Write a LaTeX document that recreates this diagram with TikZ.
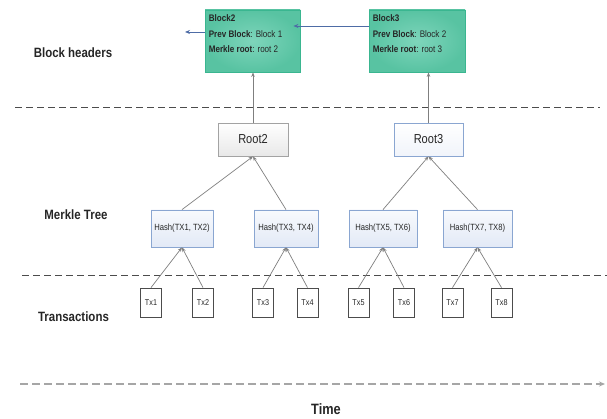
\documentclass[tikz,border=0pt]{standalone}
\usepackage{fontspec}
\setmainfont{Liberation Sans}[FakeStretch=0.85]
\usetikzlibrary{arrows.meta}
\definecolor{blockborder}{HTML}{3AB690}
\definecolor{blockin}{HTML}{7ED5BB}
\definecolor{blockout}{HTML}{58C3A2}
\definecolor{hashborder}{HTML}{8AA6D1}
\definecolor{hashtop}{HTML}{F8FAFD}
\definecolor{hashbot}{HTML}{E2E9F6}
\definecolor{rootgray}{HTML}{A3A3A3}
\definecolor{arrgray}{HTML}{7F7F7F}
\definecolor{linkblue}{HTML}{4E6CA6}
\definecolor{txtdark}{HTML}{262626}
\begin{document}
\begin{tikzpicture}[x=1pt,y=-1pt,
  blockbox/.style={draw=blockborder, inner color=blockin, outer color=blockout, minimum width=95pt, minimum height=62pt, inner sep=0pt, line width=0.8pt},
  blocktext/.style={align=left, inner sep=0pt, text=txtdark, font=\fontsize{9.5}{15.5}\selectfont},
  rootbox/.style={draw=#1, top color=white, bottom color=hashbot!50!white, minimum width=70pt, minimum height=33pt, inner sep=0pt, line width=0.8pt, text=txtdark, font=\fontsize{13}{15}\selectfont},
  hashbox/.style={draw=hashborder, top color=hashtop, bottom color=hashbot, minimum height=37pt, inner sep=0pt, line width=0.8pt, text=txtdark, font=\fontsize{9}{11}\selectfont},
  txbox/.style={draw=black!70, fill=white, minimum width=21pt, minimum height=29pt, inner sep=0pt, line width=0.8pt, text=txtdark, font=\fontsize{8.5}{10}\selectfont},
  lab/.style={inner sep=0pt, text=txtdark, font=\bfseries\fontsize{13.5}{16}\selectfont},
  arr/.style={draw=arrgray, line width=0.7pt, -{Stealth[length=4.5pt,width=3.5pt]}},
  barr/.style={draw=linkblue, line width=0.8pt, -{Stealth[length=5pt,width=4pt]}},
  sep/.style={draw=black!70, line width=0.8pt, dash pattern=on 7pt off 4pt},
  timeline/.style={draw=black!35, line width=1.6pt, dash pattern=on 8pt off 4pt, -{Stealth[length=6pt,width=5pt]}}
]
\useasboundingbox (0,0) rectangle (607,419);

% separators and time axis
\coordinate (s1a) at (15,107); \coordinate (s1b) at (600,107);
\coordinate (s2a) at (22,275); \coordinate (s2b) at (607,275);
\coordinate (ta) at (20,384); \coordinate (tb) at (605,384);
\draw[sep] (s1a) -- (s1b);
\draw[sep] (s2a) -- (s2b);
\draw[timeline] (ta) -- (tb);

% row labels
\node[lab] (lbh) at (73,53) {Block headers};
\node[lab] (lmt) at (76,215) {Merkle Tree};
\node[lab] (ltx) at (73.5,317) {Transactions};
\node[lab, font=\bfseries\fontsize{15}{18}\selectfont] (ltime) at (326,409) {Time};

% block headers
\node[blockbox] (b2) at (252.5,41) {};
\node[blockbox, minimum width=96pt] (b3) at (417,41) {};
\node[blocktext, anchor=north west] (b2t) at ([xshift=4pt,yshift=-5pt]b2.north west)
  {\textbf{Block2}\\\textbf{Prev Block}: Block 1\\\textbf{Merkle root}: root 2};
\node[blocktext, anchor=north west] (b3t) at ([xshift=4pt,yshift=-5pt]b3.north west)
  {\textbf{Block3}\\\textbf{Prev Block}: Block 2\\\textbf{Merkle root}: root 3};

% roots
\node[rootbox=rootgray, bottom color=black!9] (r2) at (253,139.5) {Root2};
\node[rootbox=hashborder, minimum width=69pt] (r3) at (428.5,139.5) {Root3};

% hashes
\node[hashbox, minimum width=62pt] (h12) at (182,228.5) {Hash(TX1, TX2)};
\node[hashbox, minimum width=64pt] (h34) at (286,228.5) {Hash(TX3, TX4)};
\node[hashbox, minimum width=68pt] (h56) at (383,228.5) {Hash(TX5, TX6)};
\node[hashbox, minimum width=69pt] (h78) at (477.5,228.5) {Hash(TX7, TX8)};

% transactions
\node[txbox] (t1) at (151,302.5) {Tx1};
\node[txbox] (t2) at (203,302.5) {Tx2};
\node[txbox] (t3) at (263,302.5) {Tx3};
\node[txbox] (t4) at (307.5,302.5) {Tx4};
\node[txbox] (t5) at (358.5,302.5) {Tx5};
\node[txbox] (t6) at (404,302.5) {Tx6};
\node[txbox] (t7) at (452.5,302.5) {Tx7};
\node[txbox] (t8) at (501.5,302.5) {Tx8};

% tx -> hash
\draw[arr] (t1.north) -- (h12.south);
\draw[arr] (t2.north) -- (h12.south);
\draw[arr] (t3.north) -- (h34.south);
\draw[arr] (t4.north) -- (h34.south);
\draw[arr] (t5.north) -- (h56.south);
\draw[arr] (t6.north) -- (h56.south);
\draw[arr] (t7.north) -- (h78.south);
\draw[arr] (t8.north) -- (h78.south);

% hash -> root
\draw[arr] (h12.north) -- (r2.south);
\draw[arr] (h34.north) -- (r2.south);
\draw[arr] (h56.north) -- (r3.south);
\draw[arr] (h78.north) -- (r3.south);

% root -> block
\draw[arr] (r2.north) -- (r2.north |- b2.south);
\draw[arr] (r3.north) -- (r3.north |- b3.south);

% block links
\coordinate (b3w) at ([yshift=15pt]b3.west);
\coordinate (b2in) at ([xshift=-7pt]b2.east);
\draw[barr] (b3w) -- (b2in |- b3w);
\coordinate (b2w) at ([yshift=9pt]b2.west);
\coordinate (prev) at (185,32);
\draw[barr] (b2w) -- (prev);
\end{tikzpicture}
\end{document}
